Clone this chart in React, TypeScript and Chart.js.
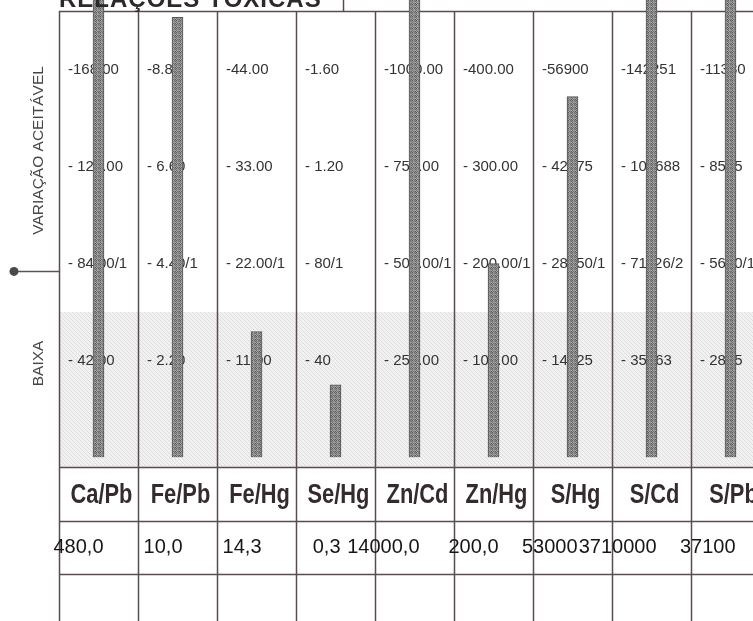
import React, { useEffect, useRef } from "react";
import { Chart, registerables } from "chart.js";

Chart.register(...registerables);

// ---- data ----
const ratios = ["Ca/Pb", "Fe/Pb", "Fe/Hg", "Se/Hg", "Zn/Cd", "Zn/Hg", "S/Hg", "S/Cd", "S/Pb"];
const patientValues = [480.0, 10.0, 14.3, 0.3, 14000.0, 200.0, 53000, 3710000, 37100];
const patientValueLabels = ["480,0", "10,0", "14,3", "0,3", "14000,0", "200,0", "53000", "3710000", "37100"];
// value of one reference step (the lowest printed level) for each ratio
const levelStep = [42, 2.2, 11, 0.4, 250, 100, 14225, 35563, 2845];
const level4Labels = ["-168.00", "-8.80", "-44.00", "-1.60", "-1000.00", "-400.00", "-56900", "-142251", "-11380"];
const level3Labels = ["- 126.00", "- 6.60", "- 33.00", "- 1.20", "- 750.00", "- 300.00", "- 42675", "- 106688", "- 8535"];
const level2Labels = ["- 84.00/1", "- 4.40/1", "- 22.00/1", "- 80/1", "- 500.00/1", "- 200.00/1", "- 28450/1", "- 71126/2", "- 5690/1"];
const level1Labels = ["- 42.00", "- 2.20", "- 11.00", "- 40", "- 250.00", "- 100.00", "- 14225", "- 35563", "- 2845"];
const title = "RELAÇÕES TÓXICAS";
const acceptableLabel = "VARIAÇÃO ACEITÁVEL";
const lowLabel = "BAIXA";
const lowZoneTop = 1.5; // in reference steps
const markerLevel = 1.92;

const FONT = "'Liberation Sans', Arial, sans-serif";

function makeHatch(): CanvasPattern | string {
  const c = document.createElement("canvas");
  c.width = 4;
  c.height = 4;
  const g = c.getContext("2d");
  if (!g) return "#ececec";
  g.fillStyle = "#f1f1f1";
  g.fillRect(0, 0, 4, 4);
  g.fillStyle = "#dedede";
  for (let i = 0; i < 4; i++) g.fillRect(i, i, 1, 1);
  return g.createPattern(c, "repeat") || "#ececec";
}

function makeSpeckle(): CanvasPattern | string {
  const c = document.createElement("canvas");
  c.width = 4;
  c.height = 4;
  const g = c.getContext("2d");
  if (!g) return "#7a7a7a";
  const shades = ["#5c5c5c", "#8e8e8e", "#6e6e6e", "#a4a4a4"];
  for (let i = 0; i < 4; i++)
    for (let j = 0; j < 4; j++) {
      g.fillStyle = shades[(i * 3 + j * 5 + ((i * j) % 3)) % 4];
      g.fillRect(i, j, 1, 1);
    }
  return g.createPattern(c, "repeat") || "#7a7a7a";
}

export default function App() {
  const ref = useRef<HTMLCanvasElement | null>(null);

  useEffect(() => {
    const canvas = ref.current;
    if (!canvas) return;
    const hatch = makeHatch();
    const speckle = makeSpeckle();
    const levelLabels = [level1Labels, level2Labels, level3Labels, level4Labels];

    const tablePlugin = {
      id: "ratioTable",
      beforeDatasetsDraw(chart: any) {
        const { ctx, chartArea, scales } = chart;
        const x = scales.x;
        const y = scales.y;
        const W = chart.width;
        const H = chart.height;
        const half = (x.getPixelForValue(1) - x.getPixelForValue(0)) / 2;
        ctx.save();
        // low zone shading
        const yz = y.getPixelForValue(lowZoneTop);
        ctx.fillStyle = hatch;
        ctx.fillRect(chartArea.left, yz, W - chartArea.left, chartArea.bottom - yz);

        // grid lines
        ctx.strokeStyle = "#5a4c4e";
        ctx.lineWidth = 1.5;
        ctx.beginPath();
        for (let i = 0; i <= ratios.length; i++) {
          const bx = Math.round(x.getPixelForValue(i) - half) + 0.5;
          ctx.moveTo(bx, chartArea.top);
          ctx.lineTo(bx, H);
        }
        const rowH = 53.5;
        const rows = [chartArea.top, chartArea.bottom, chartArea.bottom + rowH, chartArea.bottom + 2 * rowH];
        rows.forEach((ry) => {
          const yy = Math.round(ry) + 0.5;
          ctx.moveTo(chartArea.left, yy);
          ctx.lineTo(W, yy);
        });
        ctx.stroke();

        // level labels
        ctx.fillStyle = "#333333";
        ctx.font = `15px ${FONT}`;
        ctx.textBaseline = "middle";
        ctx.textAlign = "left";
        for (let k = 0; k < 4; k++) {
          const py = y.getPixelForValue(k + 1);
          levelLabels[k].forEach((t, i) => {
            const left = x.getPixelForValue(i) - half;
            ctx.fillText(t, left + 9, py);
          });
        }

        // ratio labels row
        ctx.fillStyle = "#352a2c";
        ctx.font = `bold 28px ${FONT}`;
        ctx.textAlign = "center";
        ctx.textBaseline = "alphabetic";
        ratios.forEach((r, i) => {
          ctx.save();
          ctx.translate(x.getPixelForValue(i) + 3, chartArea.bottom + 36);
          ctx.scale(0.78, 1);
          ctx.fillText(r, 0, 0);
          ctx.restore();
        });

        // patient values row
        ctx.fillStyle = "#161616";
        ctx.font = `20px ${FONT}`;
        ctx.textAlign = "right";
        patientValueLabels.forEach((v, i) => {
          ctx.fillText(v, x.getPixelForValue(i) + 5, chartArea.bottom + 86);
        });

        // side labels
        ctx.fillStyle = "#474747";
        ctx.font = `15.5px ${FONT}`;
        ctx.textAlign = "center";
        ctx.textBaseline = "middle";
        const side = (t: string, v: number) => {
          ctx.save();
          ctx.translate(39, y.getPixelForValue(v));
          ctx.rotate(-Math.PI / 2);
          ctx.fillText(t, 0, 0);
          ctx.restore();
        };
        side(acceptableLabel, 3.17);
        side(lowLabel, 0.97);

        // marker
        const my = y.getPixelForValue(markerLevel);
        ctx.strokeStyle = "#555";
        ctx.lineWidth = 1.5;
        ctx.beginPath();
        ctx.moveTo(14, my);
        ctx.lineTo(chartArea.left, my);
        ctx.stroke();
        ctx.fillStyle = "#4a4a4a";
        ctx.beginPath();
        ctx.arc(14, my, 4.5, 0, Math.PI * 2);
        ctx.fill();
        ctx.restore();
      },
      afterDatasetsDraw(chart: any) {
        const { ctx, chartArea } = chart;
        ctx.save();
        ctx.fillStyle = "#2a2a2a";
        ctx.font = `bold 24px ${FONT}`;
        ctx.textAlign = "left";
        ctx.textBaseline = "alphabetic";
        try {
          (ctx as any).letterSpacing = "1px";
        } catch (e) {}
        ctx.fillText(title, chartArea.left, 7);
        ctx.strokeStyle = "#5a4c4e";
        ctx.lineWidth = 1.5;
        ctx.beginPath();
        ctx.moveTo(343.5, 0);
        ctx.lineTo(343.5, chartArea.top);
        ctx.stroke();
        ctx.restore();
      },
    };

    const chart = new Chart(canvas, {
      type: "bar",
      data: {
        labels: ratios,
        datasets: [
          {
            data: patientValues.map((v, i) => v / levelStep[i]),
            backgroundColor: speckle as any,
            borderColor: "#555555",
            borderWidth: 1,
            barThickness: 11,
            clip: false as any,
          },
        ],
      },
      options: {
        responsive: false,
        maintainAspectRatio: false,
        animation: false,
        devicePixelRatio: 1,
        layout: { padding: { left: 59, right: 10, top: 11, bottom: 154 } },
        plugins: { legend: { display: false }, tooltip: { enabled: false }, title: { display: false } },
        scales: {
          x: { display: false, offset: true },
          y: { display: false, min: -0.1, max: 4.61 },
        },
      },
      plugins: [tablePlugin],
    });
    return () => chart.destroy();
  }, []);

  return (
    <div
      style={{
        position: "absolute",
        left: 0,
        top: 0,
        width: 753,
        height: 621,
        overflow: "hidden",
        background: "#ffffff",
      }}
    >
      <canvas ref={ref} width={780} height={621} style={{ display: "block" }} />
    </div>
  );
}
